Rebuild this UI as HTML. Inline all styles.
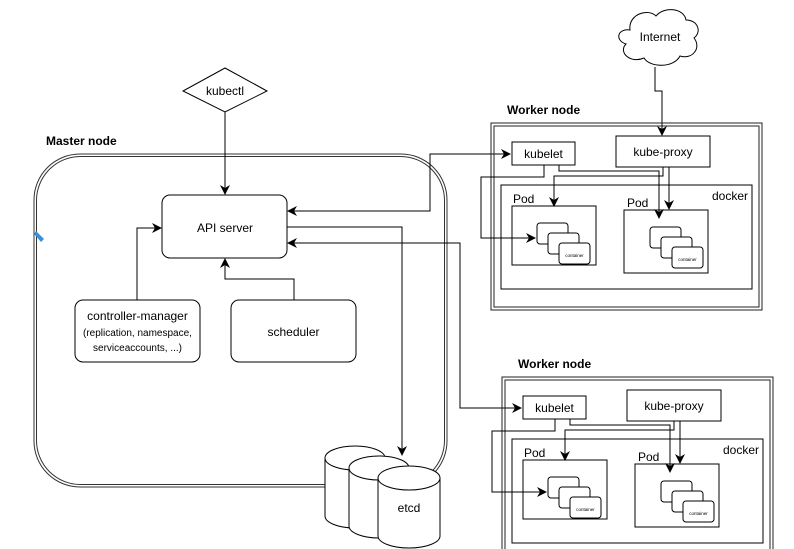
<!DOCTYPE html>
<html><head><meta charset="utf-8"><style>
html,body{margin:0;padding:0;background:#fff;}
svg{display:block;font-family:"Liberation Sans",Arial,sans-serif;}
</style></head><body>
<svg width="794" height="549" viewBox="0 0 794 549" xmlns="http://www.w3.org/2000/svg">
<defs>
<marker id="a" markerWidth="10" markerHeight="10" refX="9" refY="5" orient="auto" markerUnits="userSpaceOnUse">
<path d="M0,0 L10,5 L0,10 L3,5 Z" fill="#000"/></marker>
<g id="worker">
  <text x="507" y="114" font-size="12" font-weight="bold">Worker node</text>
  <rect x="491" y="123" width="271" height="187" fill="none" stroke="#222" stroke-width="1"/>
  <rect x="494" y="126" width="265" height="181" fill="none" stroke="#222" stroke-width="1"/>
  <rect x="512" y="142" width="63" height="23" fill="#fff" stroke="#000"/>
  <text x="543.5" y="158" font-size="12" text-anchor="middle">kubelet</text>
  <rect x="616" y="136" width="94" height="31" fill="#fff" stroke="#000"/>
  <text x="663" y="156" font-size="12" text-anchor="middle">kube-proxy</text>
  <rect x="501" y="185" width="251" height="104" fill="none" stroke="#000"/>
  <text x="748" y="200" font-size="12" text-anchor="end">docker</text>
  <text x="513" y="203" font-size="12">Pod</text>
  <rect x="512" y="206" width="84" height="59" fill="none" stroke="#000"/>
  <text x="627" y="207" font-size="12">Pod</text>
  <rect x="624" y="210" width="84" height="63" fill="none" stroke="#000"/>
  <g fill="#fff" stroke="#000">
    <rect x="537" y="223" width="31" height="21" rx="3"/>
    <rect x="548" y="233" width="31" height="21" rx="3"/>
    <rect x="559" y="243" width="31" height="21" rx="3"/>
    <rect x="650" y="227" width="31" height="21" rx="3"/>
    <rect x="661" y="237" width="31" height="21" rx="3"/>
    <rect x="672" y="247" width="31" height="21" rx="3"/>
  </g>
  <text x="574.5" y="257" font-size="4.5" text-anchor="middle">container</text>
  <text x="687.5" y="261" font-size="4.5" text-anchor="middle">container</text>
  <g fill="none" stroke="#000">
    <path d="M544,165 V177 H481 V238 H535" marker-end="url(#a)"/>
    <path d="M559,165 V171 H659 V218" marker-end="url(#a)"/>
    <path d="M663,167 V176 H554 V206" marker-end="url(#a)"/>
    <path d="M669,167 V209" marker-end="url(#a)"/>
  </g>
</g>
</defs>
<!-- master -->
<text x="46" y="145" font-size="12" font-weight="bold">Master node</text>
<rect x="34" y="154" width="413" height="333" rx="46" fill="none" stroke="#333" stroke-width="1"/>
<rect x="36.5" y="156.5" width="408" height="328" rx="44" fill="none" stroke="#333" stroke-width="1"/>
<!-- kubectl -->
<polygon points="225,68 267,91 225,112 183,91" fill="#fff" stroke="#000"/>
<text x="225" y="95" font-size="12" text-anchor="middle">kubectl</text>
<rect x="162" y="195" width="125" height="63" rx="8" fill="#fff" stroke="#000"/>
<text x="225" y="232" font-size="12" text-anchor="middle">API server</text>
<rect x="75" y="300" width="125" height="62" rx="8" fill="#fff" stroke="#000"/>
<text x="137.5" y="320" font-size="12" text-anchor="middle">controller-manager</text>
<text x="137.5" y="336" font-size="10" text-anchor="middle">(replication, namespace,</text>
<text x="137.5" y="351" font-size="10" text-anchor="middle">serviceaccounts, ...)</text>
<rect x="231" y="300" width="125" height="62" rx="8" fill="#fff" stroke="#000"/>
<text x="293.5" y="336" font-size="12" text-anchor="middle">scheduler</text>
<g fill="none" stroke="#000">
  <path d="M225,112 V194" marker-end="url(#a)"/>
  <path d="M137,300 V228 H161" marker-end="url(#a)"/>
  <path d="M294,300 V279 H225 V259" marker-end="url(#a)"/>
  <path d="M510,154 H430 V211 H288" marker-end="url(#a)"/>
  <path d="M430,154 H510" marker-end="url(#a)"/>
  <path d="M287,227 H402 V455" marker-end="url(#a)"/>
  <path d="M521,408 H460 V243 H288" marker-end="url(#a)"/>
  <path d="M460,408 H521" marker-end="url(#a)"/>
  <path d="M655,67 V91 H662 V135" marker-end="url(#a)"/>
</g>
<!-- cloud -->
<path d="M630,30 C628,14 648,8 656,16 C664,6 684,8 686,20 C698,20 702,32 694,38 C702,48 692,60 680,56 C674,68 650,68 644,58 C630,64 618,52 626,44 C614,40 618,28 630,30 Z" fill="#fff" stroke="#000"/>
<text x="660" y="41" font-size="12" text-anchor="middle">Internet</text>
<!-- etcd -->
<g fill="#fff" stroke="#000">
  <path d="M325,458 V516 A30,12 0 0 0 385,516 V458"/>
  <ellipse cx="355" cy="458" rx="30" ry="12"/>
  <path d="M349,468 V526 A30,12 0 0 0 409,526 V468"/>
  <ellipse cx="379" cy="468" rx="30" ry="12"/>
  <path d="M378,478 V536 A31,12 0 0 0 440,536 V478"/>
  <ellipse cx="409" cy="478" rx="31" ry="12"/>
</g>
<text x="409" y="512" font-size="12" text-anchor="middle">etcd</text>
<use href="#worker"/>
<use href="#worker" transform="translate(11,254)"/>
<path d="M36,231 L44,239 L41,242 L34,234 Z" fill="#3a8fd6"/>
</svg>
</body></html>
